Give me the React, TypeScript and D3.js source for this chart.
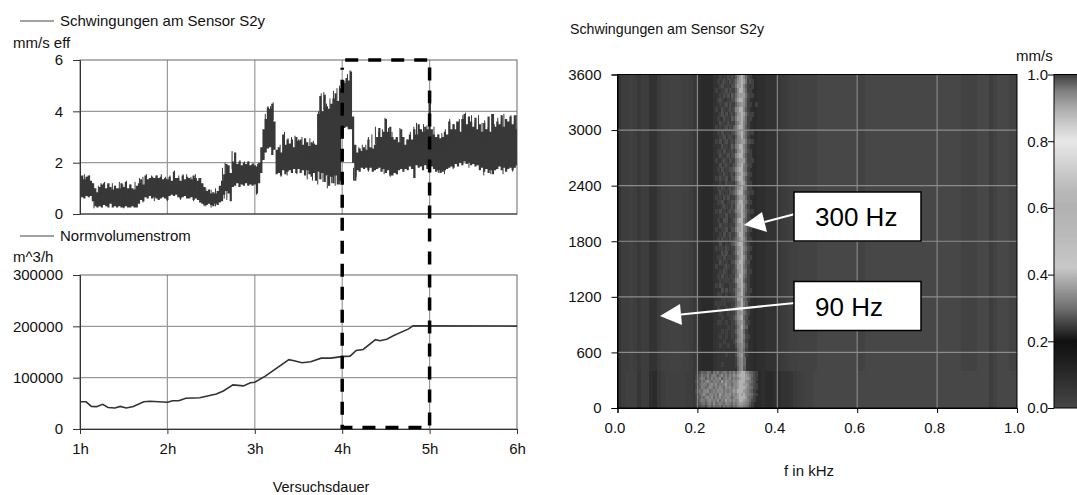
import React, { useEffect, useRef } from "react";
import * as d3 from "d3";

// Versuchsdauer ticks, hours
const hourTicks = [1, 2, 3, 4, 5, 6];

// Schwingungen am Sensor S2y: band, one value every 0.025 h
const vibrationUpper = [
  1.3, 1.5, 1.35, 1.45, 1.5, 1.3, 1.2, 1.0, 0.85, 1.05,
  1.15, 1.2, 1.0, 1.2, 1.05, 0.95, 1.1, 1.0, 1.0, 1.2,
  1.05, 1.25, 1.0, 1.15, 1.0, 0.95, 1.1, 1.2, 1.35, 1.15,
  1.5, 1.35, 1.4, 1.45, 1.4, 1.5, 1.4, 1.45, 1.35, 1.4,
  1.35, 1.45, 1.3, 1.65, 1.4, 1.4, 1.3, 1.5, 1.35, 1.45,
  1.4, 1.35, 1.5, 1.4, 1.3, 1.4, 1.2, 1.05, 0.9, 0.95,
  0.8, 0.85, 0.8, 0.9, 1.1, 1.3, 1.55, 1.95, 1.9, 1.6,
  2.05, 2.4, 1.95, 2.05, 1.9, 2.0, 1.95, 2.05, 1.9, 1.95,
  1.9, 1.85, 2.0, 2.6, 3.3, 3.7, 4.15, 4.1, 4.3, 3.6,
  2.5, 2.6, 2.4, 3.1, 2.7, 2.9, 2.75, 2.9, 2.6, 3.0,
  2.85, 2.9, 2.7, 2.95, 2.8, 2.65, 2.8, 2.75, 2.7, 3.9,
  4.6, 4.0, 4.65, 4.2, 4.1, 4.3, 4.5, 4.7, 4.4, 4.9,
  4.9, 5.1, 5.3, 5.2, 5.55, 3.8, 2.7, 2.4, 2.55, 2.45,
  2.6, 2.5, 2.9, 2.6, 2.55, 2.7, 3.0, 3.35, 3.0, 3.2,
  3.7, 3.2, 3.4, 3.0, 2.9, 3.0, 2.8, 3.3, 3.0, 2.7,
  2.9, 3.1, 2.9, 3.3, 3.1, 3.5, 3.3, 3.2, 3.4, 3.3,
  4.3, 3.3, 3.1, 3.0, 3.1, 2.95, 3.0, 3.2, 3.1, 3.6,
  3.3, 3.5, 3.3, 3.6, 3.2, 3.7, 3.9, 3.5, 3.8, 3.6,
  3.4, 3.75, 3.3, 3.5, 3.2, 3.55, 3.3, 3.8, 3.2, 3.9,
  3.4, 3.6, 3.5, 3.85, 3.4, 3.7, 3.6, 3.8, 3.5, 3.85,
  3.3,
];
const vibrationLower = [
  0.6, 0.65, 0.6, 0.7, 0.65, 0.7, 0.5, 0.3, 0.25, 0.3,
  0.25, 0.35, 0.3, 0.25, 0.4, 0.25, 0.3, 0.25, 0.3, 0.25,
  0.25, 0.3, 0.25, 0.25, 0.3, 0.25, 0.25, 0.4, 0.55, 0.5,
  0.65, 0.6, 0.7, 0.6, 0.65, 0.6, 0.55, 0.6, 0.65, 0.6,
  0.55, 0.7, 0.75, 0.7, 0.75, 0.65, 0.6, 0.65, 0.7, 0.6,
  0.6, 0.65, 0.55, 0.6, 0.55, 0.45, 0.4, 0.35, 0.35, 0.4,
  0.35, 0.3, 0.4, 0.35, 0.45, 0.5, 0.75, 0.9, 0.8, 0.5,
  1.05, 1.1, 1.2, 1.05, 1.15, 1.1, 1.2, 1.1, 1.15, 1.1,
  1.15, 0.8, 1.2, 1.6, 2.1, 2.4, 2.55, 2.6, 2.3, 2.5,
  1.55, 1.6, 1.5, 1.7, 1.55, 1.65, 1.7, 1.6, 1.75, 1.6,
  1.75, 1.6, 1.7, 1.5, 1.7, 1.55, 1.45, 1.6, 1.3, 1.65,
  1.35, 1.6, 1.25, 1.5, 1.1, 1.45, 1.2, 1.5, 1.15, 1.3,
  3.1, 3.35, 3.4, 3.3, 3.3, 2.0, 1.3, 1.7, 1.65, 1.8,
  1.75, 1.8, 1.7, 1.8, 1.65, 1.7, 1.75, 1.8, 1.65, 1.75,
  1.6, 1.7, 1.5, 1.5, 1.6, 1.55, 1.7, 1.75, 1.65, 1.75,
  1.7, 1.85, 1.75, 1.4, 1.9, 1.8, 1.85, 1.7, 1.9, 1.75,
  1.8, 1.85, 1.75, 1.65, 1.7, 1.6, 1.65, 1.7, 1.75, 1.8,
  1.85, 1.8, 1.95, 1.85, 2.0, 1.9, 2.05, 1.95, 2.0, 1.9,
  1.95, 1.85, 1.9, 1.7, 1.8, 1.65, 1.75, 1.6, 1.7, 1.55,
  1.7, 1.75, 1.85, 1.7, 1.8, 1.65, 1.75, 1.8, 1.7, 1.8,
  1.9,
];

// Narrow spikes that stick out of the band
const peakHours = [
  1.02, 1.05, 1.08, 1.11, 1.14, 1.21, 1.24, 1.28, 1.32, 1.37, 1.4, 1.45, 1.49, 1.53, 1.58, 1.63, 1.68, 1.72, 1.76, 1.82,
  1.88, 1.93, 1.98, 2.03, 2.08, 2.13, 2.18, 2.22, 2.27, 2.32, 2.36, 2.44, 2.5, 2.55, 2.63, 2.66, 2.74, 2.78, 2.83, 2.88,
  2.93, 2.98, 3.03, 3.12, 3.15, 3.18, 3.21, 3.29, 3.34, 3.38, 3.42, 3.46, 3.5, 3.54, 3.58, 3.63, 3.67, 3.73, 3.76, 3.79,
  3.82, 3.86, 3.9, 3.94, 3.97, 4.03, 4.06, 4.09, 4.19, 4.23, 4.27, 4.3, 4.34, 4.38, 4.42, 4.46, 4.49, 4.53, 4.57, 4.62,
  4.66, 4.7, 4.74, 4.78, 4.82, 4.85, 4.89, 4.93, 4.97, 5.01, 5.05, 5.1, 5.14, 5.18, 5.23, 5.27, 5.31, 5.34, 5.38, 5.41,
  5.45, 5.48, 5.52, 5.56, 5.6, 5.63, 5.67, 5.71, 5.74, 5.78, 5.82, 5.85, 5.89, 5.93, 5.97, 5.99,
];
const peakTips = [
  1.45, 1.55, 1.45, 1.5, 1.2, 1.1, 1.2, 1.25, 1.15, 1.2, 1.1, 1.25, 1.15, 1.3, 1.15, 1.25, 1.4, 1.45, 1.55, 1.5,
  1.5, 1.55, 1.45, 1.5, 1.7, 1.5, 1.55, 1.55, 1.45, 1.55, 1.4, 1.0, 0.95, 1.0, 1.8, 2.0, 2.45, 2.1, 2.1, 2.05,
  2.05, 2.0, 1.95, 3.9, 4.2, 4.2, 4.35, 2.7, 3.2, 2.95, 3.0, 3.05, 2.9, 3.0, 2.9, 2.95, 2.85, 4.0, 4.7, 4.75,
  4.3, 4.5, 4.8, 4.9, 5.0, 5.2, 5.45, 5.6, 2.6, 2.7, 2.7, 3.0, 3.1, 3.4, 3.2, 3.3, 3.75, 3.35, 3.2, 3.0,
  3.35, 3.0, 2.9, 3.2, 3.4, 3.55, 3.3, 3.5, 3.45, 4.4, 3.4, 3.1, 3.15, 3.3, 3.7, 3.5, 3.6, 3.7, 3.85, 3.95,
  3.7, 3.85, 3.6, 3.85, 3.55, 3.65, 3.4, 3.9, 3.5, 3.75, 3.6, 3.9, 3.5, 3.85, 3.6, 3.85,
];
const dipHours = [
  1.16, 1.5, 1.72, 1.85, 2.0, 2.15, 2.3, 2.42, 2.65, 2.68, 2.72, 3.02, 3.3, 3.37, 3.48, 3.6, 3.66, 3.72, 3.78, 3.83,
  3.88, 3.92, 3.97, 4.13, 4.16, 4.3, 4.48, 4.55, 4.63, 4.83, 5.1, 5.17, 5.27, 5.45, 5.62, 5.7, 5.84, 5.95,
];
const dipTips = [
  0.22, 0.22, 0.45, 0.5, 0.5, 0.55, 0.5, 0.3, 0.6, 0.55, 0.85, 0.75, 1.45, 1.5, 1.55, 1.35, 1.3, 1.15, 1.25, 1.0,
  1.2, 1.1, 1.15, 1.3, 1.45, 1.65, 1.55, 1.45, 1.55, 1.4, 1.6, 1.55, 1.75, 1.8, 1.5, 1.55, 1.55, 1.65,
];

// Normvolumenstrom
const flowHours = [
  1.0, 1.07, 1.13, 1.19, 1.26, 1.32, 1.4, 1.46, 1.53, 1.61, 1.73, 1.8, 2.0, 2.06, 2.13, 2.21,
  2.37, 2.56, 2.64, 2.75, 2.87, 2.95, 3.0, 3.12, 3.39, 3.45, 3.54, 3.64, 3.76, 3.87, 3.99,
  4.09, 4.16, 4.24, 4.38, 4.43, 4.51, 4.59, 4.76, 4.81, 6.0,
];
const flowValues = [
  53000, 53000, 44000, 43500, 48000, 42000, 41000, 44000, 41000, 44000, 53000, 54000, 52000,
  55000, 55000, 60000, 61000, 68000, 74000, 86000, 84000, 90000, 91000, 103000, 135000, 133000,
  129000, 131000, 138000, 138000, 141000, 142000, 153000, 155000, 174000, 172000, 175000,
  182000, 195000, 201000, 200500,
];

// Spectrogram: mm/s per 0.01 kHz column, away from the speckled ridge
const upperProfile = [
  0.06, 0.03, 0.03, 0.02, 0.03, 0.05, 0.03, 0.03, 0.07, 0.08,
  0.04, 0.02, 0.02, 0.01, 0.01, 0.01, 0.02, 0.02, 0.03, 0.05,
  0.09, 0.1, 0.1, 0.1, 0.08, 0.06, 0.06, 0.06, 0.06, 0.06,
  0.07, 0.08, 0.08, 0.09, 0.1, 0.09, 0.09, 0.08, 0.08, 0.07,
  0.05, 0.04, 0.03, 0.02, 0.02, 0.01, 0.01, 0.01, 0.01, 0.01,
  0.0, 0.0, 0.0, 0.0, 0.0, 0.0, 0.0, 0.0, 0.0, 0.0,
  0.01, 0.01, 0.0, 0.0, 0.0, 0.0, 0.0, 0.0, 0.0, 0.0,
  0.0, 0.0, 0.0, 0.0, 0.0, 0.0, 0.0, 0.0, 0.0, 0.0,
  0.0, 0.0, 0.0, 0.0, 0.0, 0.0, 0.01, 0.01, 0.01, 0.01,
  0.0, 0.0, 0.0, 0.03, 0.01, 0.0, 0.0, 0.0, 0.01, 0.01,
];
const lowerProfile = [
  0.06, 0.03, 0.02, 0.02, 0.02, 0.06, 0.03, 0.03, 0.09, 0.1,
  0.05, 0.03, 0.02, 0.02, 0.02, 0.02, 0.02, 0.03, 0.03, 0.05,
  0.08, 0.1, 0.1, 0.1, 0.1, 0.1, 0.1, 0.1, 0.1, 0.1,
  0.1, 0.1, 0.1, 0.1, 0.1, 0.1, 0.09, 0.1, 0.1, 0.09,
  0.09, 0.08, 0.07, 0.06, 0.04, 0.03, 0.02, 0.01, 0.01, 0.0,
  0.0, 0.0, 0.0, 0.0, 0.0, 0.0, 0.0, 0.0, 0.0, 0.0,
  0.0, 0.0, 0.0, 0.0, 0.0, 0.0, 0.0, 0.0, 0.0, 0.0,
  0.0, 0.0, 0.0, 0.0, 0.0, 0.0, 0.0, 0.0, 0.0, 0.0,
  0.0, 0.0, 0.0, 0.0, 0.0, 0.0, 0.0, 0.0, 0.0, 0.0,
  0.0, 0.0, 0.0, 0.03, 0.01, 0.0, 0.0, 0.0, 0.0, 0.0,
];

// Digit in the speckle rows -> mm/s (digit 0 leaves the column profile showing)
const speckleLevels = [0.1, 0.25, 0.265, 0.28, 0.295, 0.31, 0.325, 0.34, 0.36, 0.39];

// 0.24..0.36 kHz in 0.005 kHz steps, 3600 (top) down to 400, one row per 50
const upperSpeckle = [
  "000101021213689742100000", "001012102124789851210000", "000120110225889631010000", "010011202113799741100000",
  "000102120324788852110000", "001210011225899741000000", "000101202113678741100100", "010021012126799631000000",
  "000120201214789852110000", "001002110325889741100000", "000211021114689641000000", "010101202135899631000000",
  "001020110224789742110000", "000112012103679641000000", "010201201214678852210000", "000021101325799641000000",
  "001102011213789742100000", "000210120226899631100000", "010012102114688841110000", "000201210124789642100000",
  "001020112236899541000000", "000102101214789752100000", "010211200225899631000000", "000100211103689841100000",
  "001021012124789651100000", "000210102235899532110000", "010102120113688741000000", "001120011224799652100000",
  "000012101214889731000000", "010201012125789642110000", "000110201113679741000000", "001002200124899531100000",
  "000201101114789741000000", "010011200225889652100000", "000102012113799631000000", "001021102124689741100000",
  "000200101235899531000000", "010110210114789642100000", "000021200124889531000000", "001102011113689741100000",
  "000210100225799632000000", "010001210114889531000000", "000102100123789641100000", "001020101114699531000000",
  "000101110125889421000000", "010210001113789631000000", "000020201124679531100000", "001100100114789521000000",
  "000011011123889431000000", "010101000113679530000000", "001000100124789421000000", "000100010113778531000000",
  "000010001124789420000000", "001100100113678521000000", "000000010102579530000000", "000010100113678410000000",
  "000100100102578521000000", "000001000013678410000000", "000100010002567520000000", "000000000001467410000000",
  "000000100002578410000000", "000000000001467400000000", "000010000001467400000000", "000000000000367300000000",
];

// 0.19..0.37 kHz in 0.005 kHz steps, 400 (top) down to 0, one row per 400/12
const lowerSpeckle = [
  "001243354254634553546478997643210000", "012354463565357464657689998754210000",
  "012465354646573565746578998863210000", "023354675465648576557689997654200000",
  "012456546757465685646789988743210000", "013365457646576476757689998654210000",
  "023546674565767565668799987643100000", "012457546656486576757689897654210000",
  "013354675746575667646789998543100000", "012465467565746586757679987642100000",
  "012345356474565466546578876531000000", "001233245354453545435467765421000000",
];

// Colour bar read top to bottom, mm/s -> grey
const colorStops = [0.0, 0.05, 0.1, 0.15, 0.2, 0.25, 0.3, 0.38, 0.42, 0.5, 0.6, 0.65, 0.7, 0.75, 0.8, 0.85, 0.9, 0.95, 1.0];
const colorGreys = ["#464646", "#383838", "#2a2a2a", "#1c1c1c", "#101010", "#404040", "#707070", "#aaaaaa", "#c8c8c8", "#bcbcbc", "#b2b2b2", "#b8b8b8", "#c8c8c8", "#d8d8d8", "#e8e8e8", "#cccccc", "#aaaaaa", "#808080", "#3c3c3c"];

const timeTicks = [0, 600, 1200, 1800, 2400, 3000, 3600];
const freqTicks = [0, 0.2, 0.4, 0.6, 0.8, 1.0];
const barTicks = [0, 0.2, 0.4, 0.6, 0.8, 1.0];
const vibrationTicks = [0, 2, 4, 6];
const flowTicks = [0, 100000, 200000, 300000];

const FONT = "'Liberation Sans', Arial, sans-serif";
const GRID = "#9a9a9a";

export default function App() {
  const ref = useRef<SVGSVGElement | null>(null);

  useEffect(() => {
    const svg = d3.select(ref.current);
    svg.selectAll("*").remove();
    svg.style("font-family", FONT);

    const label = (x: number, y: number, text: string, size = 15, anchor = "start") =>
      svg.append("text").attr("x", x).attr("y", y).attr("text-anchor", anchor)
        .style("font-size", size + "px").attr("fill", "#111").text(text);

    // ---- left panels ----
    const x = d3.scaleLinear().domain([1, 6]).range([80, 517]);
    const yVib = d3.scaleLinear().domain([0, 6]).range([214, 60]);
    const yFlow = d3.scaleLinear().domain([0, 300000]).range([429, 275]);

    const drawFrame = (y: d3.ScaleLinear<number, number>, ticks: number[], showX: boolean) => {
      const [bottom, top] = y.range();
      const g = svg.append("g");
      g.selectAll("line.v").data(hourTicks.slice(1, -1)).enter().append("line")
        .attr("x1", (d) => x(d)).attr("x2", (d) => x(d)).attr("y1", top).attr("y2", bottom)
        .attr("stroke", GRID).attr("stroke-width", 1.2);
      g.selectAll("line.h").data(ticks.slice(1, -1)).enter().append("line")
        .attr("x1", x(1)).attr("x2", x(6)).attr("y1", (d) => y(d)).attr("y2", (d) => y(d))
        .attr("stroke", GRID).attr("stroke-width", 1.2);
      g.append("rect").attr("x", x(1)).attr("y", top).attr("width", x(6) - x(1)).attr("height", bottom - top)
        .attr("fill", "none").attr("stroke", "#666").attr("stroke-width", 1);

      const axisY = svg.append("g").attr("transform", `translate(${x(1)},0)`)
        .call(d3.axisLeft(y).tickValues(ticks).tickFormat((d) => String(d)).tickSizeOuter(0).tickSize(7).tickPadding(10));
      axisY.select(".domain").attr("stroke", "#333");
      axisY.selectAll("line").attr("stroke", "#333");
      axisY.selectAll("text").attr("fill", "#111").style("font-size", "15px").style("font-family", FONT);

      if (showX) {
        const axisX = svg.append("g").attr("transform", `translate(0,${bottom})`)
          .call(d3.axisBottom(x).tickValues(hourTicks).tickFormat((d) => d + "h").tickSizeOuter(0).tickSize(5));
        axisX.select(".domain").attr("stroke", "#333");
        axisX.selectAll("line").attr("stroke", "#333");
        axisX.selectAll("text").attr("fill", "#111").style("font-size", "15px").style("font-family", FONT).attr("dy", "1.15em");
      } else {
        svg.append("line").attr("x1", x(1)).attr("x2", x(6)).attr("y1", bottom).attr("y2", bottom).attr("stroke", "#333");
      }
    };

    drawFrame(yVib, vibrationTicks, false);
    drawFrame(yFlow, flowTicks, true);

    // vibration band, stepped so the edges stay noisy
    const vibIndex = d3.range(vibrationUpper.length);
    const hourAt = d3.scaleLinear().domain([0, vibrationUpper.length - 1]).range([1, 6]);
    const band = d3.area<number>()
      .curve(d3.curveStep)
      .x((i) => x(hourAt(i)))
      .y0((i) => yVib(vibrationLower[i]))
      .y1((i) => yVib(vibrationUpper[i]));
    svg.append("path").datum(vibIndex).attr("d", band).attr("fill", "#383838");
    // spikes run from the tip back into the band
    const spikes = svg.append("g").attr("stroke", "#383838").attr("stroke-width", 1);
    spikes.selectAll("line.peak").data(peakHours).enter().append("line")
      .attr("x1", (d) => x(d)).attr("x2", (d) => x(d))
      .attr("y1", (_, i) => yVib(peakTips[i])).attr("y2", (_, i) => yVib(peakTips[i] - 0.7));
    spikes.selectAll("line.dip").data(dipHours).enter().append("line")
      .attr("x1", (d) => x(d)).attr("x2", (d) => x(d))
      .attr("y1", (_, i) => yVib(dipTips[i])).attr("y2", (_, i) => yVib(dipTips[i] + 0.5));

    // flow line
    const flowLine = d3.line<number>().x((d) => x(d)).y((_, i) => yFlow(flowValues[i]));
    svg.append("path").datum(flowHours).attr("d", flowLine).attr("fill", "none")
      .attr("stroke", "#333").attr("stroke-width", 1.6);

    // dashed window 4h..5h
    const window = d3.path();
    window.moveTo(x(4) + 3, yVib(6));
    window.lineTo(x(5), yVib(6));
    window.lineTo(x(5), yFlow(3000));
    window.lineTo(x(4), yFlow(3000));
    window.lineTo(x(4), yVib(5.7));
    svg.append("path").attr("d", window.toString()).attr("fill", "none").attr("stroke", "#000")
      .attr("stroke-width", 3.5).attr("stroke-dasharray", "13 10");

    svg.append("line").attr("x1", 20).attr("x2", 54).attr("y1", 21).attr("y2", 21).attr("stroke", "#444");
    label(60, 26, "Schwingungen am Sensor S2y");
    label(13, 48, "mm/s eff");
    svg.append("line").attr("x1", 20).attr("x2", 54).attr("y1", 236).attr("y2", 236).attr("stroke", "#444");
    label(60, 241, "Normvolumenstrom");
    label(13, 262, "m^3/h");
    label(321, 492, "Versuchsdauer", 14.5, "middle");

    // ---- spectrogram ----
    const fx = d3.scaleLinear().domain([0, 1]).range([617.5, 1017]);
    const ty = d3.scaleLinear().domain([0, 3600]).range([408, 74.5]);
    const color = d3.scaleLinear<string>().domain(colorStops).range(colorGreys);

    const defs = svg.append("defs");
    defs.append("clipPath").attr("id", "plotClip").append("rect")
      .attr("x", fx(0)).attr("y", ty(3600)).attr("width", fx(1) - fx(0)).attr("height", ty(0) - ty(3600));
    defs.append("filter").attr("id", "soft").attr("x", "-2%").attr("y", "-2%").attr("width", "104%").attr("height", "104%")
      .append("feGaussianBlur").attr("stdDeviation", 0.45);

    const heat = svg.append("g").attr("clip-path", "url(#plotClip)").append("g")
      .attr("filter", "url(#soft)").attr("shape-rendering", "crispEdges");
    heat.append("rect").attr("x", fx(0) - 4).attr("y", ty(3600) - 4).attr("width", fx(1) - fx(0) + 8).attr("height", ty(0) - ty(3600) + 8)
      .attr("fill", color(0));
    const colWidth = fx(0.01) - fx(0);
    const drawProfile = (profile: number[], from: number, to: number) => {
      heat.append("g").selectAll("rect").data(profile).enter().append("rect")
        .attr("x", (_, i) => fx(i / 100))
        .attr("y", ty(to))
        .attr("width", colWidth + 0.5)
        .attr("height", ty(from) - ty(to))
        .attr("fill", (d) => color(d));
    };
    drawProfile(upperProfile, 400, 3600);
    drawProfile(lowerProfile, 0, 400);

    const drawSpeckle = (rows: string[], startKhz: number, from: number, to: number) => {
      const rowBand = d3.scaleBand<number>().domain(d3.range(rows.length)).range([ty(to), ty(from)]);
      const stepPx = fx(0.005) - fx(0);
      rows.forEach((row, r) => {
        const cells = row.split("").map((c, i) => ({ i, level: Number(c) })).filter((c) => c.level > 0);
        heat.append("g").selectAll("rect").data(cells).enter().append("rect")
          .attr("x", (d) => fx(startKhz + d.i * 0.005))
          .attr("y", rowBand(r) as number)
          .attr("width", stepPx + 0.4)
          .attr("height", rowBand.bandwidth() + 0.4)
          .attr("fill", (d) => color(speckleLevels[d.level]));
      });
    };
    drawSpeckle(upperSpeckle, 0.24, 400, 3600);
    drawSpeckle(lowerSpeckle, 0.19, 0, 400);

    // grid over the image
    svg.append("g").selectAll("line").data(freqTicks.slice(1, -1)).enter().append("line")
      .attr("x1", (d) => fx(d)).attr("x2", (d) => fx(d)).attr("y1", ty(3600)).attr("y2", ty(0))
      .attr("stroke", "#8c8c8c").attr("stroke-width", 1.1);
    svg.append("g").selectAll("line").data(timeTicks.slice(1, -1)).enter().append("line")
      .attr("x1", fx(0)).attr("x2", fx(1)).attr("y1", (d) => ty(d)).attr("y2", (d) => ty(d))
      .attr("stroke", "#8c8c8c").attr("stroke-width", 1.1);
    svg.append("rect").attr("x", fx(0)).attr("y", ty(3600)).attr("width", fx(1) - fx(0)).attr("height", ty(0) - ty(3600))
      .attr("fill", "none").attr("stroke", "#000").attr("stroke-width", 1);

    const axT = svg.append("g").attr("transform", `translate(${fx(0)},0)`)
      .call(d3.axisLeft(ty).tickValues(timeTicks).tickFormat((d) => String(d)).tickSizeOuter(0).tickSize(6).tickPadding(10));
    axT.selectAll("text").attr("fill", "#111").style("font-size", "15px").style("font-family", FONT);
    const axF = svg.append("g").attr("transform", `translate(0,${ty(0)})`)
      .call(d3.axisBottom(fx).tickValues(freqTicks).tickFormat(d3.format(".1f")).tickSizeOuter(0).tickSize(5));
    axF.selectAll("text").attr("fill", "#111").style("font-size", "15px").style("font-family", FONT)
      .attr("dy", "1.15em").attr("x", -3);

    label(570, 34, "Schwingungen am Sensor S2y", 14.2);
    label(809, 476, "f in kHz", 15, "middle");
    label(1016, 61, "mm/s", 15);

    // colour bar
    const grad = defs.append("linearGradient").attr("id", "barGrad").attr("x1", 0).attr("x2", 0).attr("y1", 1).attr("y2", 0);
    colorStops.forEach((s, i) => {
      grad.append("stop").attr("offset", s).attr("stop-color", colorGreys[i]);
    });
    svg.append("rect").attr("x", 1054).attr("y", ty(3600)).attr("width", 24).attr("height", ty(0) - ty(3600))
      .attr("fill", "url(#barGrad)").attr("stroke", "#000").attr("stroke-width", 1);
    const barY = d3.scaleLinear().domain([0, 1]).range([ty(0), ty(3600)]);
    const axB = svg.append("g").attr("transform", "translate(1054,0)")
      .call(d3.axisLeft(barY).tickValues(barTicks).tickFormat(d3.format(".1f")).tickSizeOuter(0).tickSize(6).tickPadding(0));
    axB.select(".domain").remove();
    axB.selectAll("text").attr("fill", "#111").style("font-size", "15px").style("font-family", FONT);

    // callouts
    const callout = (text: string, boxTop: number, fromY: number, tip: [number, number], baseA: [number, number], baseB: [number, number]) => {
      svg.append("line").attr("x1", 795).attr("y1", fromY).attr("x2", (baseA[0] + baseB[0]) / 2).attr("y2", (baseA[1] + baseB[1]) / 2)
        .attr("stroke", "#fff").attr("stroke-width", 2);
      svg.append("path").attr("d", d3.line()([tip, baseA, baseB])! + "Z").attr("fill", "#fff");
      svg.append("rect").attr("x", 794).attr("y", boxTop).attr("width", 127).attr("height", 49)
        .attr("fill", "#fff").attr("stroke", "#000").attr("stroke-width", 1.5);
      svg.append("text").attr("x", 815).attr("y", boxTop + 34).style("font-size", "26px").attr("fill", "#000").text(text);
    };
    callout("300 Hz", 192, 214, [744, 225], [762, 212], [767, 232]);
    callout("90 Hz", 281.5, 303, [660, 316], [680, 304], [682, 325]);
  }, []);

  return (
    <svg ref={ref} width={1077} height={495} style={{ position: "absolute", left: 0, top: 0, background: "#fff" }} />
  );
}
